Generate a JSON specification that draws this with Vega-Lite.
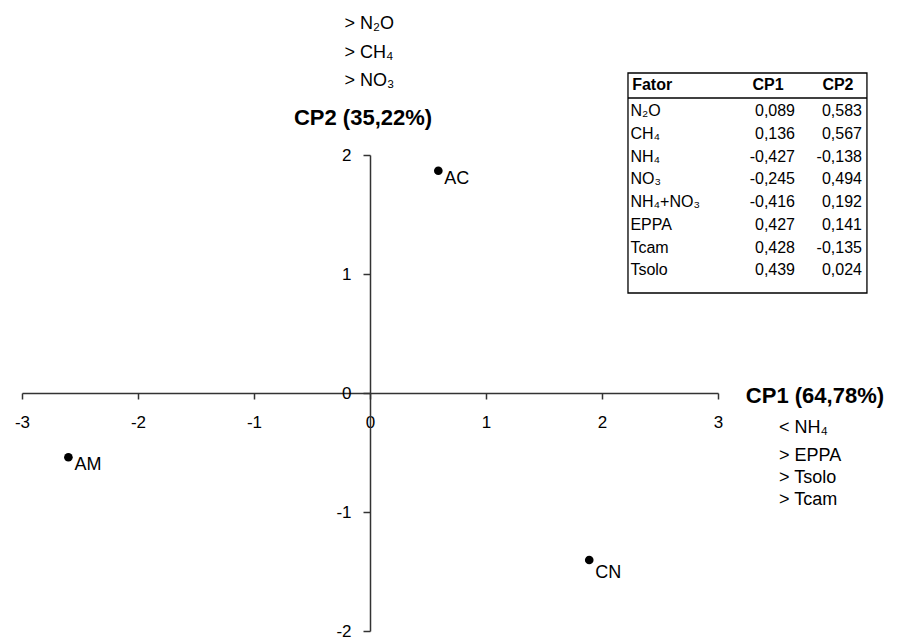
{
  "$schema": "https://vega.github.io/schema/vega-lite/v6.json",
  "width": 696,
  "height": 476,
  "autosize": {"type": "none"},
  "padding": {"left": 22, "top": 155, "right": 180, "bottom": 7},
  "background": "white",
  "config": {
    "view": {"stroke": null},
    "font": "Liberation Sans",
    "locale": {"number": {"decimal": ",", "thousands": ".", "grouping": [3], "currency": ["", ""], "minus": "-"}},
    "text": {"font": "Liberation Sans", "color": "black"}
  },
  "datasets": {
    "scores": [
      {"local": "AC", "cp1": 0.589, "cp2": 1.868},
      {"local": "AM", "cp1": -2.6, "cp2": -0.54},
      {"local": "CN", "cp1": 1.89, "cp2": -1.403}
    ],
    "loadings": [
      {"row": 1, "fator": "N₂O", "cp1": 0.089, "cp2": 0.583},
      {"row": 2, "fator": "CH₄", "cp1": 0.136, "cp2": 0.567},
      {"row": 3, "fator": "NH₄", "cp1": -0.427, "cp2": -0.138},
      {"row": 4, "fator": "NO₃", "cp1": -0.245, "cp2": 0.494},
      {"row": 5, "fator": "NH₄+NO₃", "cp1": -0.416, "cp2": 0.192},
      {"row": 6, "fator": "EPPA", "cp1": 0.427, "cp2": 0.141},
      {"row": 7, "fator": "Tcam", "cp1": 0.428, "cp2": -0.135},
      {"row": 8, "fator": "Tsolo", "cp1": 0.439, "cp2": 0.024}
    ]
  },
  "resolve": {"scale": {"y": "independent"}, "axis": {"y": "independent"}},
  "layer": [
    {
      "data": {"name": "scores"},
      "layer": [
        {
          "mark": {"type": "circle", "size": 75, "color": "black", "opacity": 1},
          "encoding": {
            "x": {
              "field": "cp1", "type": "quantitative",
              "scale": {"domain": [-3, 3], "nice": false, "zero": false},
              "axis": {
                "orient": "bottom", "offset": -238, "values": [-3, -2, -1, 0, 1, 2, 3], "format": "d",
                "title": null, "grid": false,
                "domainColor": "#333", "domainWidth": 1.5,
                "tickColor": "#333", "tickWidth": 1.5, "tickSize": 6,
                "labelFont": "Liberation Sans", "labelFontSize": 17, "labelColor": "black",
                "labelPadding": 15, "labelFlush": false, "labelOverlap": false
              }
            },
            "y": {
              "field": "cp2", "type": "quantitative",
              "scale": {"domain": [-2, 2], "nice": false, "zero": false},
              "axis": {
                "orient": "left", "offset": -348, "values": [-2, -1, 0, 1, 2], "format": "d",
                "title": null, "grid": false,
                "domainColor": "#333", "domainWidth": 1.5,
                "tickColor": "#333", "tickWidth": 1.5, "tickSize": 7,
                "labelFont": "Liberation Sans", "labelFontSize": 17, "labelColor": "black",
                "labelPadding": 12, "labelFlush": false, "labelOverlap": false
              }
            }
          }
        },
        {
          "transform": [{"filter": "datum.local != 'CN'"}],
          "mark": {"type": "text", "align": "left", "baseline": "middle", "dx": 6, "dy": 8, "fontSize": 18},
          "encoding": {
            "x": {"field": "cp1", "type": "quantitative"},
            "y": {"field": "cp2", "type": "quantitative"},
            "text": {"field": "local"}
          }
        },
        {
          "transform": [{"filter": "datum.local == 'CN'"}],
          "mark": {"type": "text", "align": "left", "baseline": "middle", "dx": 6, "dy": 13, "fontSize": 18},
          "encoding": {
            "x": {"field": "cp1", "type": "quantitative"},
            "y": {"field": "cp2", "type": "quantitative"},
            "text": {"field": "local"}
          }
        },
        {
          "data": {"values": [{}]},
          "mark": {"type": "text", "text": ["> N₂O", "> CH₄", "> NO₃"], "align": "left", "baseline": "top", "fontSize": 18, "lineHeight": 28.3},
          "encoding": {
            "x": {"datum": -0.22, "type": "quantitative"},
            "y": {"datum": 3.173, "type": "quantitative"}
          }
        },
        {
          "data": {"values": [{}]},
          "mark": {"type": "text", "text": "CP2 (35,22%)", "align": "center", "baseline": "middle", "fontSize": 22, "fontWeight": "bold"},
          "encoding": {
            "x": {"datum": -0.06, "type": "quantitative"},
            "y": {"datum": 2.313, "type": "quantitative"}
          }
        },
        {
          "data": {"values": [{}]},
          "mark": {"type": "text", "text": "CP1 (64,78%)", "align": "left", "baseline": "middle", "fontSize": 22, "fontWeight": "bold"},
          "encoding": {
            "x": {"datum": 3.24, "type": "quantitative"},
            "y": {"datum": -0.025, "type": "quantitative"}
          }
        },
        {
          "data": {"values": [{}]},
          "mark": {"type": "text", "text": "< NH₄", "align": "left", "baseline": "middle", "fontSize": 18},
          "encoding": {
            "x": {"datum": 3.526, "type": "quantitative"},
            "y": {"datum": -0.292, "type": "quantitative"}
          }
        },
        {
          "data": {"values": [{}]},
          "mark": {"type": "text", "text": ["> EPPA", "> Tsolo", "> Tcam"], "align": "left", "baseline": "top", "fontSize": 18, "lineHeight": 21.75},
          "encoding": {
            "x": {"datum": 3.526, "type": "quantitative"},
            "y": {"datum": -0.454, "type": "quantitative"}
          }
        }
      ]
    },
    {
      "data": {"name": "loadings"},
      "layer": [
        {
          "data": {"values": [{}]},
          "mark": {"type": "rect", "fill": "white", "stroke": "black", "strokeWidth": 1.3},
          "encoding": {
            "x": {"datum": 2.224, "type": "quantitative", "scale": {"domain": [-3, 3], "nice": false, "zero": false}},
            "x2": {"datum": 4.284},
            "y": {"datum": -0.67, "type": "quantitative", "axis": null, "scale": {"domain": [2.934, 23.854], "reverse": true, "nice": false, "zero": false}},
            "y2": {"datum": 8.999}
          }
        },
        {
          "data": {"values": [{}]},
          "mark": {"type": "rule", "stroke": "black", "strokeWidth": 1.3},
          "encoding": {
            "x": {"datum": 2.224, "type": "quantitative"},
            "x2": {"datum": 4.284},
            "y": {"datum": 0.429, "type": "quantitative", "axis": null}
          }
        },
        {
          "data": {"values": [{}]},
          "mark": {"type": "text", "text": "Fator", "align": "left", "baseline": "middle", "fontSize": 16, "fontWeight": "bold"},
          "encoding": {
            "x": {"datum": 2.26, "type": "quantitative"},
            "y": {"datum": -0.14, "type": "quantitative", "axis": null}
          }
        },
        {
          "data": {"values": [{}]},
          "mark": {"type": "text", "text": "CP1", "align": "center", "baseline": "middle", "fontSize": 16, "fontWeight": "bold"},
          "encoding": {
            "x": {"datum": 3.431, "type": "quantitative"},
            "y": {"datum": -0.14, "type": "quantitative", "axis": null}
          }
        },
        {
          "data": {"values": [{}]},
          "mark": {"type": "text", "text": "CP2", "align": "center", "baseline": "middle", "fontSize": 16, "fontWeight": "bold"},
          "encoding": {
            "x": {"datum": 4.034, "type": "quantitative"},
            "y": {"datum": -0.14, "type": "quantitative", "axis": null}
          }
        },
        {
          "mark": {"type": "text", "align": "left", "baseline": "middle", "fontSize": 16},
          "encoding": {
            "x": {"datum": 2.245, "type": "quantitative"},
            "y": {"field": "row", "type": "quantitative", "axis": null},
            "text": {"field": "fator"}
          }
        },
        {
          "mark": {"type": "text", "align": "right", "baseline": "middle", "fontSize": 16},
          "encoding": {
            "x": {"datum": 3.664, "type": "quantitative"},
            "y": {"field": "row", "type": "quantitative", "axis": null},
            "text": {"field": "cp1", "type": "quantitative", "format": ".3f"}
          }
        },
        {
          "mark": {"type": "text", "align": "right", "baseline": "middle", "fontSize": 16},
          "encoding": {
            "x": {"datum": 4.241, "type": "quantitative"},
            "y": {"field": "row", "type": "quantitative", "axis": null},
            "text": {"field": "cp2", "type": "quantitative", "format": ".3f"}
          }
        }
      ]
    }
  ]
}
